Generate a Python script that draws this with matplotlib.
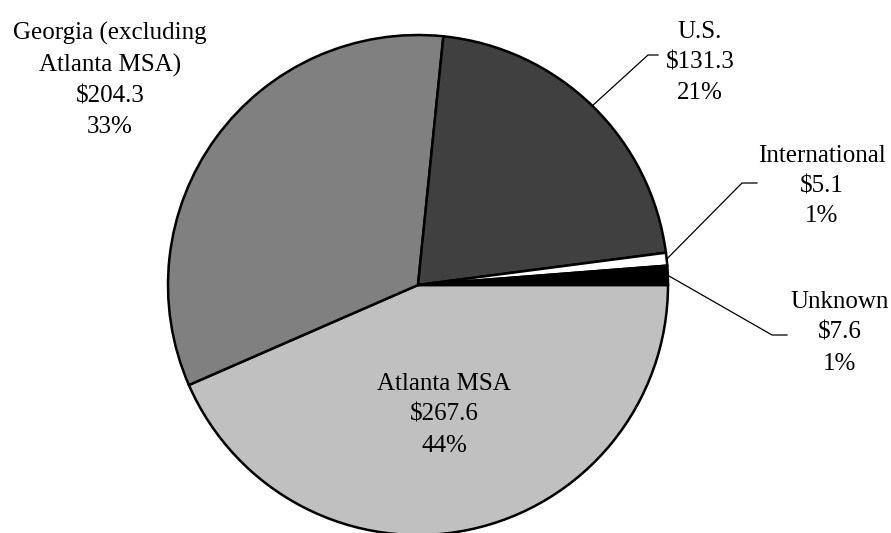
import matplotlib
matplotlib.use("Agg")
import matplotlib.pyplot as plt
import numpy as np

# values in $ millions, drawn clockwise from 3 o'clock
labels = ["Atlanta MSA", "Georgia (excluding\nAtlanta MSA)", "U.S.", "International", "Unknown"]
values = [267.6, 204.3, 131.3, 5.1, 7.6]
pct_labels = ["44%", "33%", "21%", "1%", "1%"]
colors = ["#c0c0c0", "#808080", "#404040", "#ffffff", "#000000"]

plt.rcParams["font.family"] = ["Liberation Serif", "DejaVu Serif"]

W, H, DPI = 891, 533, 100
CX, CY, R = 418, 285, 250  # pie centre / radius in pixels


def px(x, y):
    return (x - CX) / R, (CY - y) / R


fig = plt.figure(figsize=(W / DPI, H / DPI), dpi=DPI)
ax = fig.add_axes([0, 0, 1, 1])
wedges, _ = ax.pie(values, colors=colors, startangle=0, counterclock=False,
                   radius=1, wedgeprops=dict(edgecolor="black", linewidth=1.8))
x0, y0 = px(0, H)
x1, y1 = px(W, 0)
ax.set_xlim(x0, x1)
ax.set_ylim(y0, y1)
ax.set_aspect("equal")
ax.axis("off")

# label block centres (pixels) and leader elbows for the small outside slices
text_pos = [(444, 415), (110, 80), (700, 62), (822, 186), (840, 333)]
elbows = {2: ((648, 55), (658, 55)), 3: ((742, 183), (757, 183)), 4: ((772, 335), (787, 335))}

for i, (w, lab, v, p) in enumerate(zip(wedges, labels, values, pct_labels)):
    tx, ty = px(*text_pos[i])
    ax.text(tx, ty, f"{lab}\n${v:.1f}\n{p}", ha="center", va="center",
            multialignment="center", fontsize=18, linespacing=1.5)
    if i in elbows:
        mid = np.deg2rad((w.theta1 + w.theta2) / 2)
        (ex, ey), (fx, fy) = elbows[i]
        ex, ey = px(ex, ey)
        fx, fy = px(fx, fy)
        ax.plot([np.cos(mid), ex, fx], [np.sin(mid), ey, fy], color="black", lw=0.9)

fig.savefig("out.png", dpi=DPI)
